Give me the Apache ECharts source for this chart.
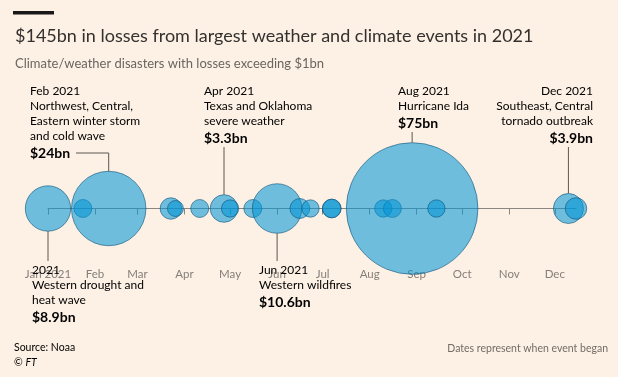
<!DOCTYPE html>
<html>
<head>
<meta charset="utf-8">
<script src="https://cdn.jsdelivr.net/npm/echarts@6/dist/echarts.min.js"></script>
<style>
  html, body { margin: 0; padding: 0; background: #fdf1e5; }
  #chart { width: 618px; height: 377px; }
</style>
</head>
<body>
<div id="chart"></div>
<script>
// billion-dollar climate/weather disasters in 2021 (start date, loss $bn)
const eventDates = ['2021-01-01', '2021-01-24', '2021-02-10', '2021-03-23', '2021-03-26', '2021-04-11',
  '2021-04-27', '2021-05-01', '2021-05-16', '2021-06-01', '2021-06-16', '2021-06-23', '2021-07-07',
  '2021-07-07', '2021-08-10', '2021-08-16', '2021-08-29', '2021-09-14', '2021-12-10', '2021-12-15'];
const lossesBn = [8.9, 1.4, 24, 2.0, 1.1, 1.4, 3.3, 1.3, 1.4, 10.6, 1.7, 1.3, 1.5, 1.5, 1.3, 1.4, 75, 1.3, 3.9, 2.0];

const monthLabels = ['Jan 2021', 'Feb', 'Mar', 'Apr', 'May', 'Jun', 'Jul', 'Aug', 'Sep', 'Oct', 'Nov', 'Dec'];
const monthStarts = ['2021-01-01', '2021-02-01', '2021-03-01', '2021-04-01', '2021-05-01', '2021-06-01',
  '2021-07-01', '2021-08-01', '2021-09-01', '2021-10-01', '2021-11-01', '2021-12-01'];

// annotated events: index into the arrays above
const noteIndex = [2, 6, 16, 18, 0, 9];
const noteDates = ['Feb 2021', 'Apr 2021', 'Aug 2021', 'Dec 2021', '2021', 'Jun 2021'];
const noteTexts = [
  ['Northwest, Central,', 'Eastern winter storm', 'and cold wave'],
  ['Texas and Oklahoma', 'severe weather'],
  ['Hurricane Ida'],
  ['Southeast, Central', 'tornado outbreak'],
  ['Western drought and', 'heat wave'],
  ['Western wildfires']
];

const FONT = 'Lato, "Open Sans", sans-serif';
const dayOf = s => {
  const p = s.split('-').map(Number);
  return (Date.UTC(p[0], p[1] - 1, p[2]) - Date.UTC(2021, 0, 1)) / 86400000;
};
const days = eventDates.map(dayOf);
const tickDays = monthStarts.map(dayOf);
const radius = v => 7.6 * Math.sqrt(v);

const chart = echarts.init(document.getElementById('chart'));

const option = {
  backgroundColor: '#fdf1e5',
  animation: false,
  title: [{
    text: '$145bn in losses from largest weather and climate events in 2021',
    subtext: 'Climate/weather disasters with losses exceeding $1bn',
    left: 10,
    top: 20,
    itemGap: 9,
    textStyle: { fontFamily: FONT, fontSize: 18, fontWeight: 'normal', color: '#33302e', lineHeight: 22 },
    subtextStyle: { fontFamily: FONT, fontSize: 13, color: '#6b6560', lineHeight: 16 }
  }],
  grid: { left: 48, right: 42, top: 158, height: 101 },
  xAxis: {
    type: 'value',
    min: 0,
    max: 348,
    splitLine: { show: false },
    axisLine: { onZero: true, lineStyle: { color: '#8c8681', width: 1 } },
    axisTick: { customValues: tickDays, length: 6, lineStyle: { color: '#8c8681' } },
    axisLabel: {
      customValues: tickDays,
      margin: 9,
      fontFamily: FONT,
      fontSize: 11.5,
      color: '#857f79',
      formatter: v => monthLabels[tickDays.indexOf(v)] || ''
    }
  },
  yAxis: { type: 'value', min: -1, max: 1, show: false },
  series: [{
    type: 'scatter',
    data: days.map((d, i) => [d, 0, lossesBn[i]]),
    symbolSize: val => 2 * radius(val[2]),
    itemStyle: {
      color: 'rgba(0,148,212,0.56)',
      borderColor: 'rgba(10,80,120,0.75)',
      borderWidth: 0.8,
      opacity: 1
    },
    emphasis: { disabled: true }
  }]
};
chart.setOption(option);

// annotation blocks: layout only
const noteLayout = [
  { x: 30, top: 84, align: 'left', above: true, elbowFrom: 76 },
  { x: 204, top: 84, align: 'left', above: true },
  { x: 398, top: 84, align: 'left', above: true },
  { x: 593, top: 84, align: 'right', above: true },
  { x: 32, top: 263, align: 'left', above: false },
  { x: 259, top: 263, align: 'left', above: false }
];

const rich = {
  d: { fontFamily: FONT, fontSize: 12, color: '#524c48', lineHeight: 15 },
  t: { fontFamily: FONT, fontSize: 12, color: '#746d67', lineHeight: 15 },
  v: { fontFamily: FONT, fontSize: 14, fontWeight: 'bold', color: '#1b1918', lineHeight: 18 }
};
const lineStyle = { stroke: '#5c5650', lineWidth: 1 };

const graphics = [
  { type: 'rect', shape: { x: 13, y: 11, width: 41, height: 3.5 }, style: { fill: '#1a1817' } },
  {
    type: 'text', left: 14, top: 342,
    style: {
      text: '{a|Source: Noaa}\n{a|© }{b|FT}',
      rich: {
        a: { fontFamily: FONT, fontSize: 10.5, color: '#736c66', lineHeight: 15 },
        b: { fontFamily: FONT, fontSize: 10.5, fontStyle: 'italic', color: '#736c66', lineHeight: 15 }
      }
    }
  },
  {
    type: 'text', right: 10, top: 343,
    style: { text: 'Dates represent when event began', fontFamily: FONT, fontSize: 10.5, fill: '#736c66' }
  }
];

noteIndex.forEach((idx, k) => {
  const lay = noteLayout[k];
  const [cx, cy] = chart.convertToPixel({ seriesIndex: 0 }, [days[idx], 0]);
  const r = radius(lossesBn[idx]);
  const lines = ['{d|' + noteDates[k] + '}']
    .concat(noteTexts[k].map(t => '{t|' + t + '}'))
    .concat(['{v|$' + lossesBn[idx] + 'bn}']);
  graphics.push({
    type: 'text',
    style: { x: lay.x, y: lay.top, text: lines.join('\n'), rich: rich, align: lay.align, verticalAlign: 'top' },
    z: 10
  });
  const bottom = lay.top + (lines.length - 1) * 15 + 18;
  if (lay.elbowFrom) {
    const ly = bottom - 9;
    graphics.push({ type: 'polyline', shape: { points: [[lay.elbowFrom, ly], [cx, ly], [cx, cy - r]] }, style: lineStyle, z: 10 });
  } else if (lay.above) {
    graphics.push({ type: 'line', shape: { x1: cx, y1: bottom, x2: cx, y2: cy - r }, style: lineStyle, z: 10 });
  } else {
    graphics.push({ type: 'line', shape: { x1: cx, y1: cy + r, x2: cx, y2: lay.top - 2 }, style: lineStyle, z: 10 });
  }
});

chart.setOption({ graphic: graphics });
</script>
</body>
</html>
